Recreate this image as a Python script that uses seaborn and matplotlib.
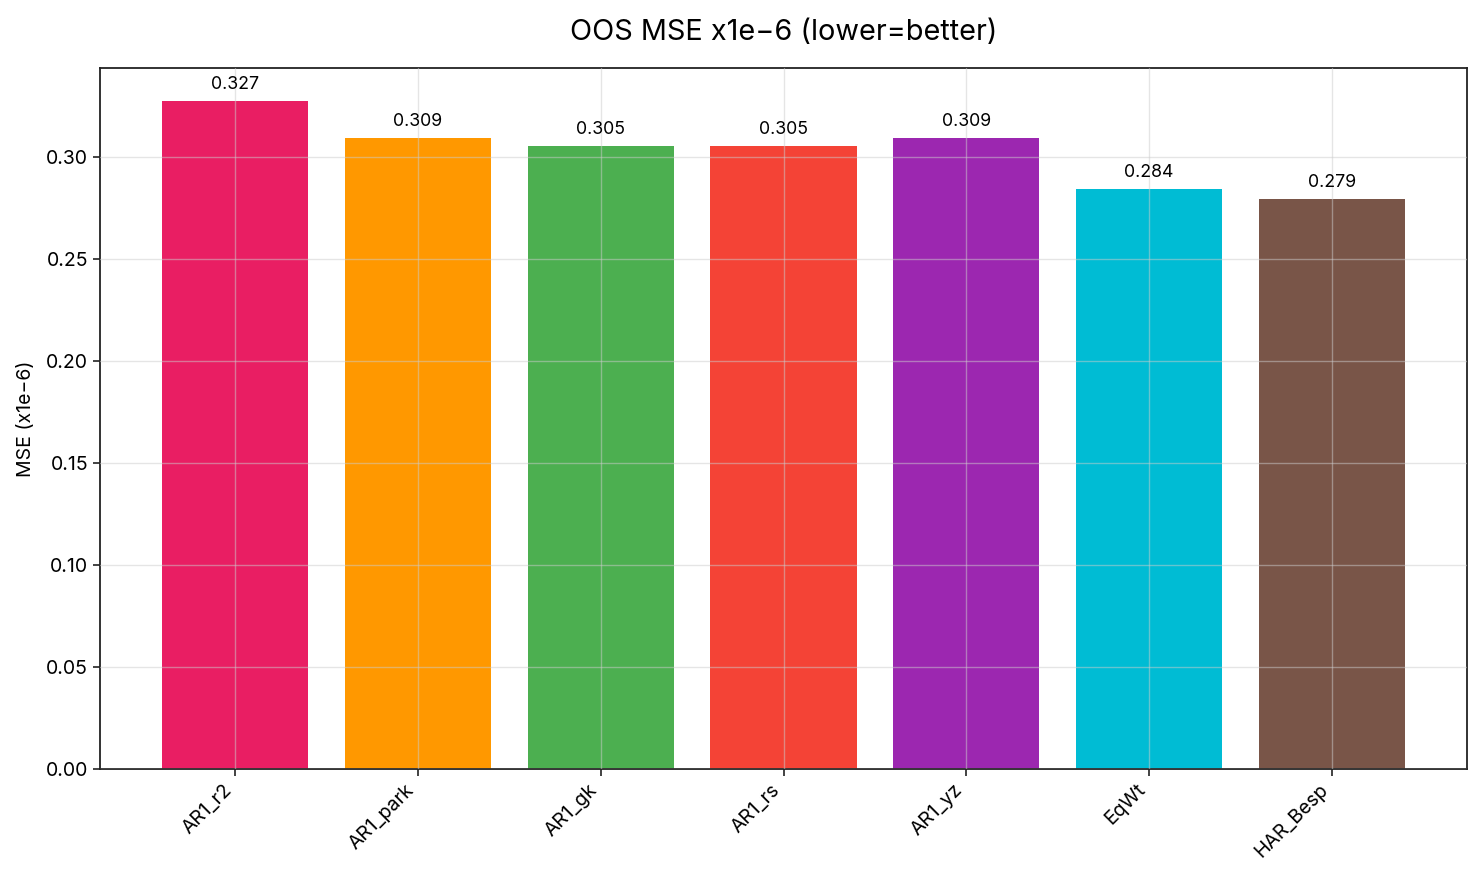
import matplotlib
matplotlib.use('Agg')
import matplotlib.pyplot as plt
import seaborn as sns
import pandas as pd

# Datos del gráfico
modelos = ['AR1_r2', 'AR1_park', 'AR1_gk', 'AR1_rs', 'AR1_yz', 'EqWt', 'HAR_Besp']
mse = [0.327, 0.309, 0.305, 0.305, 0.309, 0.284, 0.279]
colores = ['#E91E63', '#FF9800', '#4CAF50', '#F44336', '#9C27B0', '#00BCD4', '#795548']

sns.set_theme(style='ticks')
plt.rcParams['font.family'] = ['Inter', 'DejaVu Sans']
plt.rcParams['axes.unicode_minus'] = True
plt.rcParams['text.color'] = 'black'
plt.rcParams['axes.labelcolor'] = 'black'
plt.rcParams['xtick.color'] = 'black'
plt.rcParams['ytick.color'] = 'black'

df = pd.DataFrame({'modelo': modelos, 'mse': mse})

fig, ax = plt.subplots(figsize=(14.82, 8.84), dpi=100)
fig.subplots_adjust(left=0.0675, right=0.990, top=0.923, bottom=0.130)

sns.barplot(data=df, x='modelo', y='mse', hue='modelo', palette=colores,
            legend=False, width=0.8, saturation=1, linewidth=0, ax=ax)

for i, val in enumerate(mse):
    ax.text(i, val + 0.004, f'{val:.3f}', ha='center', va='bottom', fontsize=12.8)

ax.set_ylim(0, max(mse) * 1.05)
ax.set_xlim(-0.74, len(modelos) - 0.26)
ax.set_title('OOS MSE x1e\u22126 (lower=better)', fontsize=20.8, pad=20)
ax.set_ylabel('MSE (x1e\u22126)', fontsize=14, labelpad=8)
ax.set_xlabel('')
ax.tick_params(axis='both', labelsize=14, width=1.2, length=5, color='#222222')
plt.setp(ax.get_xticklabels(), rotation=45, ha='right', rotation_mode='default')
ax.yaxis.set_major_formatter(matplotlib.ticker.FormatStrFormatter('%.2f'))

ax.set_axisbelow(False)
ax.grid(True, color='#cccccc', alpha=0.5, linewidth=1)
for s in ax.spines.values():
    s.set_visible(True)
    s.set_color('#222222')
    s.set_linewidth(1.3)

plt.savefig('out.png', dpi=100)
plt.close()
